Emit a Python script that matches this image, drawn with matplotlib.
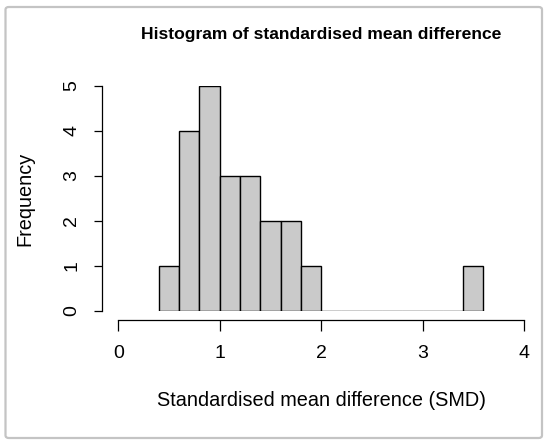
import matplotlib
matplotlib.use("Agg")
import matplotlib.pyplot as plt
from matplotlib.patches import FancyBboxPatch

plt.rcParams['font.family'] = ['Liberation Sans', 'DejaVu Sans']

bin_left = [0.4, 0.6, 0.8, 1.0, 1.2, 1.4, 1.6, 1.8, 2.0, 2.2, 2.4, 2.6, 2.8, 3.0, 3.2, 3.4]
counts = [1, 4, 5, 3, 3, 2, 2, 1, 0, 0, 0, 0, 0, 0, 0, 1]
bin_width = 0.2
x_ticks = [0, 1, 2, 3, 4]
y_ticks = [0, 1, 2, 3, 4, 5]

W, H = 550, 444
fig = plt.figure(figsize=(5.5, 4.44), dpi=100)

# outer rounded border
border = FancyBboxPatch((5.5 / W, 6 / H), (542 - 5.5) / W, (437 - 6) / H,
                        boxstyle="round,pad=0,rounding_size=0.006",
                        transform=fig.transFigure, facecolor='white',
                        edgecolor='#c4c4c4', linewidth=1.6, zorder=-10)
fig.patches.append(border)

x0, x1 = 118.3, 524.0
y0, y1 = 311.0, 86.0
ax = fig.add_axes([x0 / W, (H - y0) / H, (x1 - x0) / W, (y0 - y1) / H])
ax.set_facecolor('none')

ax.bar(bin_left, counts, width=bin_width, align='edge', color='#cacaca',
       edgecolor='black', linewidth=1.0)

ax.set_xlim(0, 4)
ax.set_ylim(0, 5)
for s in ['top', 'right']:
    ax.spines[s].set_visible(False)
ax.spines['left'].set_position(('outward', 11.5))
ax.spines['bottom'].set_position(('outward', 6.5))
ax.spines['left'].set_bounds(0, 5)
ax.spines['bottom'].set_bounds(0, 4)
for s in ['left', 'bottom']:
    ax.spines[s].set_linewidth(0.9)

ax.set_xticks(x_ticks)
ax.set_yticks(y_ticks)
ax.set_xticklabels([str(v) for v in x_ticks])
ax.set_yticklabels([str(v) for v in y_ticks], rotation=90, va='center')
ax.tick_params(axis='x', length=8, width=0.9, pad=10, labelsize=14)
ax.tick_params(axis='y', length=6, width=0.9, pad=10, labelsize=14)

ax.set_xlabel('Standardised mean difference (SMD)', fontsize=14.3, labelpad=21)
ax.set_ylabel('Frequency', fontsize=14.3, labelpad=21)
ax.set_title('Histogram of standardised mean difference', fontsize=12.6,
             fontweight='bold', pad=34)

fig.savefig('out.png', dpi=100)
